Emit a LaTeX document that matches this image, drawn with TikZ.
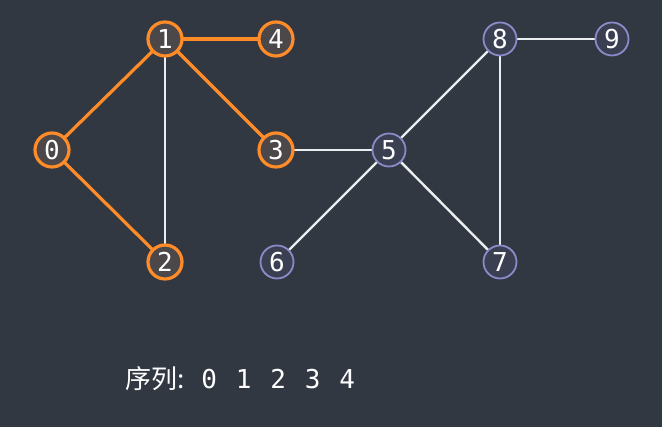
\documentclass[tikz,border=0pt]{standalone}
\usepackage{fontspec}
\setmonofont{DejaVu Sans Mono}
\newfontfamily\cjk{Noto Sans CJK SC}
\definecolor{bg}{RGB}{50,56,66}
\definecolor{orng}{RGB}{255,140,40}
\definecolor{ofill}{RGB}{76,71,73}
\definecolor{bstroke}{RGB}{140,138,200}
\definecolor{bfill}{RGB}{58,63,82}
\definecolor{edgew}{RGB}{235,238,240}
\tikzset{
  vis/.style={circle,draw=orng,fill=ofill,line width=3.2pt,minimum size=34pt,inner sep=0pt,text=white,font=\ttfamily\fontsize{26}{26}\selectfont},
  unv/.style={circle,draw=bstroke,fill=bfill,line width=1.8pt,minimum size=33pt,inner sep=0pt,text=white,font=\ttfamily\fontsize{26}{26}\selectfont},
  oe/.style={draw=orng,line width=3.2pt},
  we/.style={draw=edgew,line width=2.4pt}
}
\begin{document}
\begin{tikzpicture}[x=1pt,y=1pt]
\fill[bg] (0,0) rectangle (662,427);
\useasboundingbox (0,0) rectangle (662,427);
\coordinate (p0) at (52,277);
\coordinate (p1) at (165,388);
\coordinate (p2) at (165,165);
\coordinate (p3) at (276,277);
\coordinate (p4) at (276,388);
\coordinate (p5) at (389,277);
\coordinate (p6) at (277,165);
\coordinate (p7) at (500,165);
\coordinate (p8) at (500,388);
\coordinate (p9) at (612,388);
\draw[we] (p1) -- (p2);
\draw[we] (p3) -- (p5);
\draw[we] (p5) -- (p8);
\draw[we] (p5) -- (p6);
\draw[we] (p5) -- (p7);
\draw[we] (p8) -- (p7);
\draw[we] (p8) -- (p9);
\draw[oe] (p0) -- (p1);
\draw[oe] (p0) -- (p2);
\draw[oe] (p1) -- (p4);
\draw[oe] (p1) -- (p3);
\node[vis] (n0) at (p0) {0};
\node[vis] (n1) at (p1) {1};
\node[vis] (n2) at (p2) {2};
\node[vis] (n3) at (p3) {3};
\node[vis] (n4) at (p4) {4};
\node[unv] (n5) at (p5) {5};
\node[unv] (n6) at (p6) {6};
\node[unv] (n7) at (p7) {7};
\node[unv] (n8) at (p8) {8};
\node[unv] (n9) at (p9) {9};
\node[anchor=base west,text=white,inner sep=0pt,font=\ttfamily\fontsize{26}{26}\selectfont] (seq) at (125,38) {{\cjk\fontsize{26}{26}\selectfont 序列:}\hspace{17pt}0\hspace{18.85pt}1\hspace{18.85pt}2\hspace{18.85pt}3\hspace{18.85pt}4};
\end{tikzpicture}
\end{document}
